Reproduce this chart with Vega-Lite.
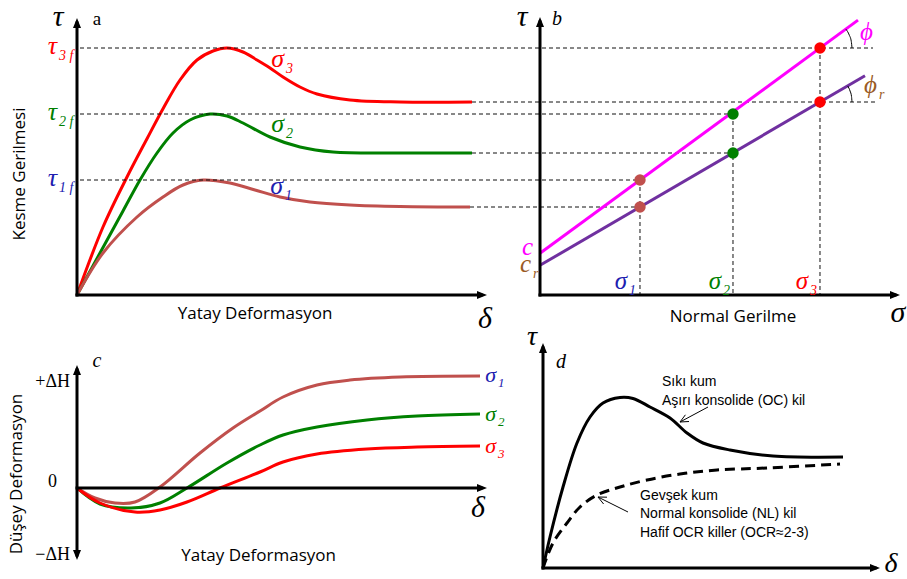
{
  "$schema": "https://vega.github.io/schema/vega-lite/v6.json",
  "background": "white",
  "padding": 0,
  "columns": 2,
  "spacing": 0,
  "align": "each",
  "bounds": "flush",
  "config": {"view": {"stroke": null}},
  "datasets": {
    "a_curves": [
      {"k":"3","x":0,"y":0},{"k":"3","x":0.65,"y":2.72},{"k":"3","x":1.25,"y":4.72},{"k":"3","x":1.75,"y":6.25},{"k":"3","x":2.15,"y":7.45},{"k":"3","x":2.575,"y":8.6},{"k":"3","x":3.0,"y":9.4},{"k":"3","x":3.4,"y":9.76},{"k":"3","x":3.75,"y":9.88},{"k":"3","x":4.15,"y":9.72},{"k":"3","x":4.5,"y":9.4},{"k":"3","x":4.825,"y":9.08},{"k":"3","x":5.15,"y":8.72},{"k":"3","x":5.575,"y":8.32},{"k":"3","x":6.0,"y":8.04},{"k":"3","x":6.825,"y":7.8},{"k":"3","x":8.075,"y":7.72},{"k":"3","x":9.875,"y":7.72},
      {"k":"2","x":0,"y":0},{"k":"2","x":0.65,"y":1.9},{"k":"2","x":1.15,"y":3.36},{"k":"2","x":1.575,"y":4.6},{"k":"2","x":2.0,"y":5.68},{"k":"2","x":2.4,"y":6.48},{"k":"2","x":2.825,"y":7.0},{"k":"2","x":3.325,"y":7.24},{"k":"2","x":3.75,"y":7.16},{"k":"2","x":4.15,"y":6.88},{"k":"2","x":4.825,"y":6.32},{"k":"2","x":5.575,"y":5.92},{"k":"2","x":6.4,"y":5.72},{"k":"2","x":8.075,"y":5.68},{"k":"2","x":9.875,"y":5.68},
      {"k":"1","x":0,"y":0},{"k":"1","x":0.65,"y":1.68},{"k":"1","x":1.5,"y":3.12},{"k":"1","x":2.15,"y":3.92},{"k":"1","x":2.65,"y":4.4},{"k":"1","x":3.15,"y":4.6},{"k":"1","x":3.825,"y":4.48},{"k":"1","x":4.45,"y":4.2},{"k":"1","x":5.075,"y":3.92},{"k":"1","x":5.825,"y":3.72},{"k":"1","x":6.825,"y":3.6},{"k":"1","x":8.075,"y":3.54},{"k":"1","x":9.825,"y":3.52}
    ],
    "a_axes": [{"x":0,"y":0,"x2":0,"y2":10.88},{"x":0,"y":0,"x2":10.1,"y2":0}],
    "a_arr": [{"x":0,"y":11.08,"dir":"up"},{"x":10.25,"y":0,"dir":"right"}],
    "a_big": [{"x":-0.475,"y":10.76,"t":"τ"},{"x":10.2,"y":-1.32,"t":"δ"}],
    "a_letter": [{"x":0.5,"y":10.8,"t":"a"}],
    "a_lab": [
      {"x":-0.5,"y":9.64,"s":"τ","sub":"3 f","k":"3"},
      {"x":-0.5,"y":7.0,"s":"τ","sub":"2 f","k":"2"},
      {"x":-0.5,"y":4.36,"s":"τ","sub":"1 f","k":"1"},
      {"x":5.175,"y":9.12,"s":"σ","sub":"3","k":"3"},
      {"x":5.175,"y":6.52,"s":"σ","sub":"2","k":"2"},
      {"x":5.15,"y":4.04,"s":"σ","sub":"1","k":"1"}
    ],
    "a_title": [{"x":4.45,"y":-0.76,"t":"Yatay Deformasyon"}],
    "a_vtitle": [{"x":-1.425,"y":4.84,"t":"Kesme Gerilmesi"}],
    "b_lines": [{"k":"f","x":0,"y":1.667},{"k":"f","x":10.6,"y":10.995},{"k":"r","x":0,"y":1.187},{"k":"r","x":10.833,"y":8.77}],
    "b_dots": [{"k":"1","x":3.333,"y":4.6},{"k":"1","x":3.333,"y":3.52},{"k":"2","x":6.433,"y":7.24},{"k":"2","x":6.433,"y":5.68},{"k":"3","x":9.333,"y":9.88},{"k":"3","x":9.333,"y":7.72}],
    "b_dash": [
      {"x":-15.333,"y":9.88,"x2":11.1,"y2":9.88},
      {"x":-2.267,"y":7.72,"x2":11.23,"y2":7.72},
      {"x":-15.333,"y":7.24,"x2":6.433,"y2":7.24},
      {"x":-2.267,"y":5.68,"x2":6.433,"y2":5.68},
      {"x":-15.333,"y":4.6,"x2":3.333,"y2":4.6},
      {"x":-2.333,"y":3.52,"x2":3.333,"y2":3.52},
      {"x":3.333,"y":4.6,"x2":3.333,"y2":0},
      {"x":6.433,"y":7.24,"x2":6.433,"y2":0},
      {"x":9.333,"y":9.88,"x2":9.333,"y2":0}
    ],
    "b_arcs": [
      {"g":"f","x":10.4,"y":9.88},{"g":"f","x":10.376,"y":10.146},{"g":"f","x":10.308,"y":10.4},{"g":"f","x":10.196,"y":10.633},
      {"g":"r","x":10.4,"y":7.72},{"g":"r","x":10.384,"y":7.943},{"g":"r","x":10.336,"y":8.158},{"g":"r","x":10.257,"y":8.36}
    ],
    "b_axes": [{"x":0,"y":0,"x2":0,"y2":10.92},{"x":0,"y":0,"x2":11.83,"y2":0}],
    "b_arr": [{"x":0,"y":11.12,"dir":"up"},{"x":12.0,"y":0,"dir":"right"}],
    "b_big": [{"x":-0.6,"y":10.76,"t":"τ"},{"x":11.93,"y":-1.08,"t":"σ"}],
    "b_letter": [{"x":0.567,"y":10.8,"t":"b"}],
    "b_lab": [
      {"x":2.9,"y":0.24,"s":"σ","sub":"1","k":"1"},
      {"x":6.033,"y":0.24,"s":"σ","sub":"2","k":"2"},
      {"x":8.933,"y":0.24,"s":"σ","sub":"3","k":"3"},
      {"x":-0.233,"y":1.6,"s":"c","sub":"","k":"m"},
      {"x":-0.3,"y":0.92,"s":"c","sub":"r","k":"b"},
      {"x":11.1,"y":10.2,"s":"ϕ","sub":"","k":"m"},
      {"x":11.233,"y":8.08,"s":"ϕ","sub":"r","k":"b"}
    ],
    "b_title": [{"x":6.433,"y":-0.88,"t":"Normal Gerilme"}],
    "c_curves": [
      {"k":"1","x":0,"y":0},{"k":"1","x":0.45,"y":-0.1},{"k":"1","x":0.95,"y":-0.15},{"k":"1","x":1.45,"y":-0.14},{"k":"1","x":2.075,"y":0.01},{"k":"1","x":3.075,"y":0.35},{"k":"1","x":3.9,"y":0.6},{"k":"1","x":4.575,"y":0.77},{"k":"1","x":5.15,"y":0.91},{"k":"1","x":6.0,"y":1.03},{"k":"1","x":6.825,"y":1.08},{"k":"1","x":8.075,"y":1.11},{"k":"1","x":10.075,"y":1.12},
      {"k":"2","x":0,"y":0},{"k":"2","x":0.575,"y":-0.16},{"k":"2","x":1.35,"y":-0.2},{"k":"2","x":2.075,"y":-0.15},{"k":"2","x":2.75,"y":0},{"k":"2","x":3.75,"y":0.25},{"k":"2","x":4.575,"y":0.43},{"k":"2","x":5.15,"y":0.53},{"k":"2","x":6.0,"y":0.61},{"k":"2","x":7.25,"y":0.68},{"k":"2","x":8.5,"y":0.72},{"k":"2","x":10.075,"y":0.74},
      {"k":"3","x":0,"y":0},{"k":"3","x":0.575,"y":-0.15},{"k":"3","x":1.45,"y":-0.24},{"k":"3","x":2.075,"y":-0.22},{"k":"3","x":2.75,"y":-0.14},{"k":"3","x":3.575,"y":0},{"k":"3","x":4.575,"y":0.16},{"k":"3","x":5.15,"y":0.26},{"k":"3","x":6.0,"y":0.34},{"k":"3","x":7.25,"y":0.39},{"k":"3","x":8.5,"y":0.41},{"k":"3","x":10.075,"y":0.42}
    ],
    "c_axes": [{"x":0,"y":-0.67,"x2":0,"y2":1.18},{"x":0,"y":0,"x2":10.1,"y2":0}],
    "c_arr": [{"x":0,"y":1.23,"dir":"up"},{"x":0,"y":-0.72,"dir":"down"},{"x":10.25,"y":0,"dir":"right"}],
    "c_big": [{"x":10.025,"y":-0.29,"t":"δ"}],
    "c_letter": [{"x":0.5,"y":1.21,"t":"c"}],
    "c_ticks": [{"x":-0.175,"y":1.01,"t":"+ΔH"},{"x":-0.5,"y":0.01,"t":"0"},{"x":-0.175,"y":-0.72,"t":"−ΔH"}],
    "c_lab": [
      {"x":10.475,"y":1.06,"s":"σ","sub":"1","k":"1"},
      {"x":10.475,"y":0.67,"s":"σ","sub":"2","k":"2"},
      {"x":10.475,"y":0.35,"s":"σ","sub":"3","k":"3"}
    ],
    "c_title": [{"x":4.54,"y":-0.68,"t":"Yatay Deformasyon"}],
    "c_vtitle": [{"x":-1.5,"y":0.14,"t":"Düşey Deformasyon"}],
    "d_solid": [
      {"x":0,"y":0},{"x":0.233,"y":1.24},{"x":0.667,"y":3.24},{"x":1.133,"y":5.0},{"x":1.567,"y":6.04},{"x":2.0,"y":6.6},{"x":2.567,"y":6.82},{"x":3.0,"y":6.78},{"x":3.567,"y":6.44},{"x":4.233,"y":6.0},{"x":4.8,"y":5.4},{"x":5.333,"y":5.0},{"x":6.233,"y":4.72},{"x":7.667,"y":4.48},{"x":10.0,"y":4.44}
    ],
    "d_dashed": [
      {"x":0,"y":0},{"x":0.333,"y":1.0},{"x":0.8,"y":1.8},{"x":1.233,"y":2.44},{"x":1.8,"y":2.92},{"x":2.567,"y":3.24},{"x":3.467,"y":3.52},{"x":4.567,"y":3.76},{"x":5.8,"y":3.92},{"x":7.467,"y":4.0},{"x":9.9,"y":4.16}
    ],
    "d_axes": [{"x":0,"y":0,"x2":0,"y2":8.8},{"x":0,"y":0,"x2":11.07,"y2":0}],
    "d_arr": [{"x":0,"y":9.0,"dir":"up"},{"x":11.233,"y":0,"dir":"right"}],
    "d_pointers": [
      {"x":5.5,"y":6.44,"x2":4.567,"y2":5.84},{"x":4.567,"y":5.84,"x2":4.867,"y2":5.86},{"x":4.567,"y":5.84,"x2":4.747,"y2":6.128},
      {"x":2.833,"y":2.24,"x2":1.833,"y2":2.84},{"x":1.833,"y":2.84,"x2":2.02,"y2":2.56},{"x":1.833,"y":2.84,"x2":2.133,"y2":2.832}
    ],
    "d_big": [{"x":-0.367,"y":8.92,"t":"τ"},{"x":11.6,"y":-0.16,"t":"δ"}],
    "d_letter": [{"x":0.6,"y":8.0,"t":"d"}],
    "d_notes": [
      {"x":3.967,"y":7.28,"t":"Sıkı kum"},
      {"x":3.967,"y":6.52,"t":"Aşırı konsolide (OC) kil"},
      {"x":3.233,"y":2.72,"t":"Gevşek kum"},
      {"x":3.233,"y":2.0,"t":"Normal konsolide (NL) kil"},
      {"x":3.233,"y":1.24,"t":"Hafif OCR killer (OCR≈2-3)"}
    ]
  },
  "concat": [
    {
      "width": 505,
      "height": 330,
      "encoding": {
        "x": {"field": "x", "type": "quantitative", "scale": {"domain": [-1.925, 10.7], "nice": false, "zero": false}, "axis": null},
        "y": {"field": "y", "type": "quantitative", "scale": {"domain": [-1.4, 11.8], "nice": false, "zero": false}, "axis": null}
      },
      "resolve": {"scale": {"color": "independent"}},
      "layer": [
        {"data": {"name": "a_curves"}, "mark": {"type": "line", "interpolate": "catmull-rom", "strokeWidth": 3},
         "encoding": {"color": {"field": "k", "type": "nominal", "scale": {"domain": ["1","2","3"], "range": ["#c0504d","#008000","#ff0000"]}, "legend": null}}},
        {"data": {"name": "a_axes"}, "mark": {"type": "rule", "color": "black", "strokeWidth": 3, "strokeCap": "square"},
         "encoding": {"x2": {"field": "x2"}, "y2": {"field": "y2"}}},
        {"data": {"name": "a_arr"}, "mark": {"type": "point", "filled": true, "color": "black", "opacity": 1, "size": 100, "strokeWidth": 0},
         "encoding": {"shape": {"field": "dir", "type": "nominal", "scale": {"domain": ["up","right","down"], "range": ["M0,0L-0.8,2L0.8,2Z","M0,0L-2,-0.8L-2,0.8Z","M0,0L-0.8,-2L0.8,-2Z"]}, "legend": null}}},
        {"data": {"name": "a_big"}, "mark": {"type": "text", "font": "Liberation Serif", "fontStyle": "italic", "fontSize": 30, "align": "center", "baseline": "alphabetic", "color": "black"},
         "encoding": {"text": {"field": "t"}}},
        {"data": {"name": "a_letter"}, "mark": {"type": "text", "font": "Liberation Serif", "fontSize": 19, "align": "center", "baseline": "alphabetic", "color": "black"},
         "encoding": {"text": {"field": "t"}}},
        {"data": {"name": "a_lab"}, "mark": {"type": "text", "font": "Liberation Serif", "fontStyle": "italic", "fontSize": 26, "align": "right", "baseline": "alphabetic"},
         "encoding": {"text": {"field": "s"}, "color": {"field": "k", "type": "nominal", "scale": {"domain": ["1","2","3","m","b"], "range": ["#2020b0","#008000","#ff0000","#ff00ff","#9a5b25"]}, "legend": null}}},
        {"data": {"name": "a_lab"}, "mark": {"type": "text", "font": "Liberation Serif", "fontStyle": "italic", "fontSize": 14, "align": "left", "baseline": "alphabetic", "dx": 2, "dy": 6},
         "encoding": {"text": {"field": "sub"}, "color": {"field": "k", "type": "nominal", "scale": {"domain": ["1","2","3","m","b"], "range": ["#2020b0","#008000","#ff0000","#ff00ff","#9a5b25"]}, "legend": null}}},
        {"data": {"name": "a_title"}, "mark": {"type": "text", "font": "Open Sans", "fontSize": 17, "align": "center", "baseline": "middle", "color": "black"},
         "encoding": {"text": {"field": "t"}}},
        {"data": {"name": "a_vtitle"}, "mark": {"type": "text", "font": "Open Sans", "fontSize": 17, "align": "center", "baseline": "middle", "angle": 270, "color": "black"},
         "encoding": {"text": {"field": "t"}}}
      ]
    },
    {
      "width": 402,
      "height": 330,
      "encoding": {
        "x": {"field": "x", "type": "quantitative", "scale": {"domain": [-1.1667, 12.2333], "nice": false, "zero": false}, "axis": null},
        "y": {"field": "y", "type": "quantitative", "scale": {"domain": [-1.4, 11.8], "nice": false, "zero": false}, "axis": null}
      },
      "resolve": {"scale": {"color": "independent"}},
      "layer": [
        {"data": {"name": "b_dash"}, "mark": {"type": "rule", "color": "#111111", "strokeWidth": 1, "strokeDash": [4, 3]},
         "encoding": {"x2": {"field": "x2"}, "y2": {"field": "y2"}}},
        {"data": {"name": "b_lines"}, "mark": {"type": "line", "strokeWidth": 3},
         "encoding": {"color": {"field": "k", "type": "nominal", "scale": {"domain": ["f","r"], "range": ["#ff00ff","#7030a0"]}, "legend": null}}},
        {"data": {"name": "b_arcs"}, "mark": {"type": "line", "strokeWidth": 1, "color": "black", "interpolate": "monotone"},
         "encoding": {"detail": {"field": "g"}}},
        {"data": {"name": "b_dots"}, "mark": {"type": "circle", "size": 130, "opacity": 1},
         "encoding": {"color": {"field": "k", "type": "nominal", "scale": {"domain": ["1","2","3"], "range": ["#c0504d","#008000","#ff0000"]}, "legend": null}}},
        {"data": {"name": "b_axes"}, "mark": {"type": "rule", "color": "black", "strokeWidth": 3, "strokeCap": "square"},
         "encoding": {"x2": {"field": "x2"}, "y2": {"field": "y2"}}},
        {"data": {"name": "b_arr"}, "mark": {"type": "point", "filled": true, "color": "black", "opacity": 1, "size": 100, "strokeWidth": 0},
         "encoding": {"shape": {"field": "dir", "type": "nominal", "scale": {"domain": ["up","right","down"], "range": ["M0,0L-0.8,2L0.8,2Z","M0,0L-2,-0.8L-2,0.8Z","M0,0L-0.8,-2L0.8,-2Z"]}, "legend": null}}},
        {"data": {"name": "b_big"}, "mark": {"type": "text", "font": "Liberation Serif", "fontStyle": "italic", "fontSize": 30, "align": "center", "baseline": "alphabetic", "color": "black"},
         "encoding": {"text": {"field": "t"}}},
        {"data": {"name": "b_letter"}, "mark": {"type": "text", "font": "Liberation Serif", "fontStyle": "italic", "fontSize": 20, "align": "center", "baseline": "alphabetic", "color": "black"},
         "encoding": {"text": {"field": "t"}}},
        {"data": {"name": "b_lab"}, "mark": {"type": "text", "font": "Liberation Serif", "fontStyle": "italic", "fontSize": 25, "align": "right", "baseline": "alphabetic"},
         "encoding": {"text": {"field": "s"}, "color": {"field": "k", "type": "nominal", "scale": {"domain": ["1","2","3","m","b"], "range": ["#2020b0","#008000","#ff0000","#ff00ff","#9a5b25"]}, "legend": null}}},
        {"data": {"name": "b_lab"}, "mark": {"type": "text", "font": "Liberation Serif", "fontStyle": "italic", "fontSize": 14, "align": "left", "baseline": "alphabetic", "dx": 2, "dy": 6},
         "encoding": {"text": {"field": "sub"}, "color": {"field": "k", "type": "nominal", "scale": {"domain": ["1","2","3","m","b"], "range": ["#2020b0","#008000","#ff0000","#ff00ff","#9a5b25"]}, "legend": null}}},
        {"data": {"name": "b_title"}, "mark": {"type": "text", "font": "Open Sans", "fontSize": 17, "align": "center", "baseline": "middle", "color": "black"},
         "encoding": {"text": {"field": "t"}}}
      ]
    },
    {
      "width": 505,
      "height": 249,
      "encoding": {
        "x": {"field": "x", "type": "quantitative", "scale": {"domain": [-1.925, 10.7], "nice": false, "zero": false}, "axis": null},
        "y": {"field": "y", "type": "quantitative", "scale": {"domain": [-0.91, 1.58], "nice": false, "zero": false}, "axis": null}
      },
      "resolve": {"scale": {"color": "independent"}},
      "layer": [
        {"data": {"name": "c_curves"}, "mark": {"type": "line", "interpolate": "catmull-rom", "strokeWidth": 3},
         "encoding": {"color": {"field": "k", "type": "nominal", "scale": {"domain": ["1","2","3"], "range": ["#c0504d","#008000","#ff0000"]}, "legend": null}}},
        {"data": {"name": "c_axes"}, "mark": {"type": "rule", "color": "black", "strokeWidth": 3, "strokeCap": "square"},
         "encoding": {"x2": {"field": "x2"}, "y2": {"field": "y2"}}},
        {"data": {"name": "c_arr"}, "mark": {"type": "point", "filled": true, "color": "black", "opacity": 1, "size": 100, "strokeWidth": 0},
         "encoding": {"shape": {"field": "dir", "type": "nominal", "scale": {"domain": ["up","right","down"], "range": ["M0,0L-0.8,2L0.8,2Z","M0,0L-2,-0.8L-2,0.8Z","M0,0L-0.8,-2L0.8,-2Z"]}, "legend": null}}},
        {"data": {"name": "c_big"}, "mark": {"type": "text", "font": "Liberation Serif", "fontStyle": "italic", "fontSize": 30, "align": "center", "baseline": "alphabetic", "color": "black"},
         "encoding": {"text": {"field": "t"}}},
        {"data": {"name": "c_letter"}, "mark": {"type": "text", "font": "Liberation Serif", "fontStyle": "italic", "fontSize": 20, "align": "center", "baseline": "alphabetic", "color": "black"},
         "encoding": {"text": {"field": "t"}}},
        {"data": {"name": "c_ticks"}, "mark": {"type": "text", "font": "Liberation Serif", "fontSize": 18, "align": "right", "baseline": "alphabetic", "color": "black"},
         "encoding": {"text": {"field": "t"}}},
        {"data": {"name": "c_lab"}, "mark": {"type": "text", "font": "Liberation Serif", "fontStyle": "italic", "fontSize": 22, "align": "right", "baseline": "alphabetic"},
         "encoding": {"text": {"field": "s"}, "color": {"field": "k", "type": "nominal", "scale": {"domain": ["1","2","3","m","b"], "range": ["#2020b0","#008000","#ff0000","#ff00ff","#9a5b25"]}, "legend": null}}},
        {"data": {"name": "c_lab"}, "mark": {"type": "text", "font": "Liberation Serif", "fontStyle": "italic", "fontSize": 13, "align": "left", "baseline": "alphabetic", "dx": 2, "dy": 5},
         "encoding": {"text": {"field": "sub"}, "color": {"field": "k", "type": "nominal", "scale": {"domain": ["1","2","3","m","b"], "range": ["#2020b0","#008000","#ff0000","#ff00ff","#9a5b25"]}, "legend": null}}},
        {"data": {"name": "c_title"}, "mark": {"type": "text", "font": "Open Sans", "fontSize": 17, "align": "center", "baseline": "middle", "color": "black"},
         "encoding": {"text": {"field": "t"}}},
        {"data": {"name": "c_vtitle"}, "mark": {"type": "text", "font": "Open Sans", "fontSize": 17, "align": "center", "baseline": "middle", "angle": 270, "color": "black"},
         "encoding": {"text": {"field": "t"}}}
      ]
    },
    {
      "width": 402,
      "height": 249,
      "encoding": {
        "x": {"field": "x", "type": "quantitative", "scale": {"domain": [-1.2667, 12.1333], "nice": false, "zero": false}, "axis": null},
        "y": {"field": "y", "type": "quantitative", "scale": {"domain": [-0.44, 9.52], "nice": false, "zero": false}, "axis": null}
      },
      "layer": [
        {"data": {"name": "d_solid"}, "mark": {"type": "line", "interpolate": "catmull-rom", "strokeWidth": 3, "color": "black"}},
        {"data": {"name": "d_dashed"}, "mark": {"type": "line", "interpolate": "catmull-rom", "strokeWidth": 3, "color": "black", "strokeDash": [10, 6]}},
        {"data": {"name": "d_axes"}, "mark": {"type": "rule", "color": "black", "strokeWidth": 3, "strokeCap": "square"},
         "encoding": {"x2": {"field": "x2"}, "y2": {"field": "y2"}}},
        {"data": {"name": "d_arr"}, "mark": {"type": "point", "filled": true, "color": "black", "opacity": 1, "size": 100, "strokeWidth": 0},
         "encoding": {"shape": {"field": "dir", "type": "nominal", "scale": {"domain": ["up","right","down"], "range": ["M0,0L-0.8,2L0.8,2Z","M0,0L-2,-0.8L-2,0.8Z","M0,0L-0.8,-2L0.8,-2Z"]}, "legend": null}}},
        {"data": {"name": "d_pointers"}, "mark": {"type": "rule", "color": "black", "strokeWidth": 1},
         "encoding": {"x2": {"field": "x2"}, "y2": {"field": "y2"}}},
        {"data": {"name": "d_big"}, "mark": {"type": "text", "font": "Liberation Serif", "fontStyle": "italic", "fontSize": 28, "align": "center", "baseline": "alphabetic", "color": "black"},
         "encoding": {"text": {"field": "t"}}},
        {"data": {"name": "d_letter"}, "mark": {"type": "text", "font": "Liberation Serif", "fontStyle": "italic", "fontSize": 20, "align": "center", "baseline": "alphabetic", "color": "black"},
         "encoding": {"text": {"field": "t"}}},
        {"data": {"name": "d_notes"}, "mark": {"type": "text", "font": "Liberation Sans", "fontSize": 14, "align": "left", "baseline": "alphabetic", "color": "black"},
         "encoding": {"text": {"field": "t"}}}
      ]
    }
  ]
}
